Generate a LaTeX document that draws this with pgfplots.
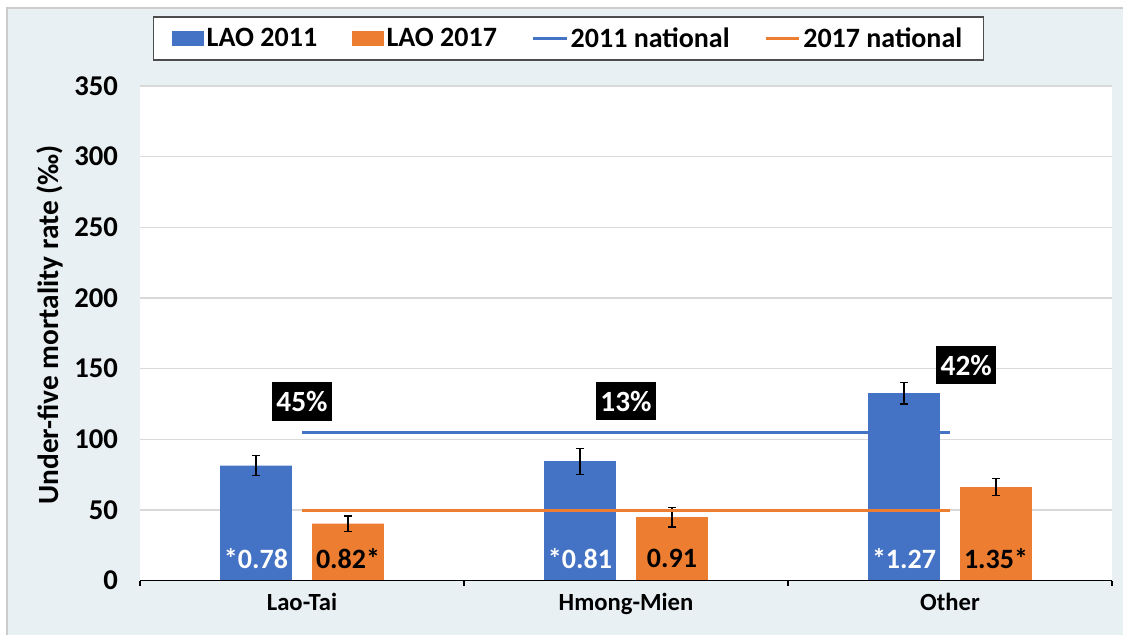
\documentclass[border=0pt]{standalone}
\usepackage{pgfplots}
\pgfplotsset{compat=1.18}
\usepackage{pgfplotstable}
\usepackage{fontspec}
\setmainfont{Carlito}
\definecolor{cblue}{HTML}{4472C4}
\definecolor{corange}{HTML}{ED7D31}
\definecolor{bgcol}{RGB}{232,240,243}
\definecolor{gridcol}{RGB}{217,217,217}
\pgfplotstableread{
x y e
0 81.3 7.1
1 84.4 9.2
2 132.6 7.7
}\tA
\pgfplotstableread{
x y e
0 40.2 5.5
1 44.8 6.8
2 66.0 6.0
}\tB
\pgfplotstableread{
x y
0 104.5
1 104.5
2 104.5
}\nA
\pgfplotstableread{
x y
0 49.3
1 49.3
2 49.3
}\nB
\begin{document}
\begin{tikzpicture}
\useasboundingbox (0,0) rectangle (842.25pt,476.25pt);
\fill[bgcol] (5.25pt,0) rectangle (842.25pt,470.25pt);
\draw[gray!40, line width=0.8pt] (5.25pt,0) -- (5.25pt,470.25pt) -- (842.25pt,470.25pt);
\begin{axis}[
  at={(105pt,40.875pt)}, anchor=south west,
  scale only axis, width=729pt, height=370.9pt,
  xmin=-0.5, xmax=2.5, ymin=0, ymax=350,
  axis background/.style={fill=white},
  axis line style={draw=none},
  ytick={0,50,...,350},
  /pgf/number format/assume math mode=true,
  ymajorgrids, grid style={gridcol, line width=1pt},
  major tick length=0pt,
  tick align=outside,
  xtick={0,1,2}, xticklabels={Lao-Tai,Hmong-Mien,Other},
  xtick pos=bottom, ytick pos=left,
  extra x ticks={-0.5,0.5,1.5,2.5}, extra x tick labels={},
  extra x tick style={grid=none, major tick length=4pt, tick style={black, line width=1pt}},
  yticklabel style={font=\bfseries\fontsize{21.5}{25}\selectfont, xshift=-13pt},
  xticklabel style={font=\bfseries\fontsize{18.5}{22}\selectfont, yshift=-6pt},
  ylabel={Under-five mortality rate (‰)},
  ylabel style={font=\bfseries\fontsize{22}{26}\selectfont, at={(axis description cs:-0.093,0.517)}, anchor=center},
  legend columns=4,
  legend style={at={(axis description cs:0.4408,1.096)}, anchor=center,
    draw=black!70, line width=0.8pt, fill=white,
    font=\bfseries\fontsize{21}{25}\selectfont,
    inner xsep=14pt, inner ysep=6pt,
    /tikz/every even column/.append style={column sep=24pt},
    nodes={inner xsep=2pt}},
]
\addplot[ybar, bar width=0.222, bar shift=0, fill=cblue, draw=none,
  legend image code/.code={\fill[cblue] (0pt,-5.5pt) rectangle (24pt,5.5pt);},
  error bars/.cd, y dir=both, y explicit,
  error bar style={black, line width=1.1pt},
  error mark options={black, rotate=90, mark size=3pt, line width=1.1pt}]
  table[x expr=\thisrow{x}-0.142, y=y, y error=e]{\tA};
\addlegendentry{LAO 2011}
\addplot[ybar, bar width=0.222, bar shift=0, fill=corange, draw=none,
  legend image code/.code={\fill[corange] (0pt,-5.5pt) rectangle (24pt,5.5pt);},
  error bars/.cd, y dir=both, y explicit,
  error bar style={black, line width=1.1pt},
  error mark options={black, rotate=90, mark size=3pt, line width=1.1pt}]
  table[x expr=\thisrow{x}+0.142, y=y, y error=e]{\tB};
\addlegendentry{LAO 2017}
\addplot[cblue, line width=2.3pt, no marks,
  legend image code/.code={\draw[cblue, line width=2.3pt] (0pt,0pt) -- (25pt,0pt);}]
  table[x=x, y=y]{\nA};
\addlegendentry{2011 national}
\addplot[corange, line width=2.3pt, no marks,
  legend image code/.code={\draw[corange, line width=2.3pt] (0pt,0pt) -- (25pt,0pt);}]
  table[x=x, y=y]{\nB};
\addlegendentry{2017 national}
% bar labels
\begin{scope}[every node/.style={font=\bfseries\fontsize{21}{25}\selectfont, inner sep=0pt}]
\node[white] at (axis cs:-0.142,15.5) {*0.78};
\node[black] at (axis cs:0.142,15.5) {0.82*};
\node[white] at (axis cs:0.858,15.5) {*0.81};
\node[black] at (axis cs:1.142,15.5) {0.91};
\node[white] at (axis cs:1.858,15.5) {*1.27};
\node[black] at (axis cs:2.142,15.5) {1.35*};
\end{scope}
\begin{scope}[every node/.style={fill=black, text=white, font=\bfseries\fontsize{22}{26}\selectfont, inner xsep=3.5pt, minimum height=29pt}]
\node at (axis cs:0,126.5) {45\%};
\node at (axis cs:1,127) {13\%};
\node at (axis cs:2.05,152.5) {42\%};
\end{scope}
\draw[black, line width=1pt] (axis cs:-0.5,0) -- (axis cs:2.5,0);
\end{axis}
\end{tikzpicture}
\end{document}
